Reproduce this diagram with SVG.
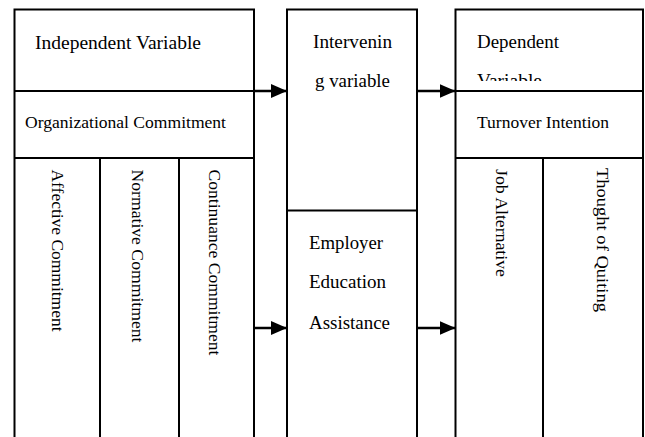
<svg xmlns="http://www.w3.org/2000/svg" width="645" height="437" viewBox="0 0 645 437">
  <style>
    .frame { fill: none; stroke: #000; stroke-width: 2; }
    .link { fill: none; stroke: #000; stroke-width: 2.5; }
    text { fill: #000; }
    .big { font-size: 19px; }
    .small { font-size: 17.5px; }
  </style>
  <defs>
    <marker id="head" markerUnits="userSpaceOnUse" markerWidth="16" markerHeight="14" refX="16" refY="7" orient="auto">
      <path d="M0,0 L16,7 L0,14 Z" fill="#000"/>
    </marker>
    <clipPath id="depClip">
      <rect x="456" y="10" width="186" height="71"/>
    </clipPath>
  </defs>

  <g font-family="'Liberation Serif', 'DejaVu Serif', serif" lengthAdjust="spacingAndGlyphs">
  <!-- Independent variable block -->
  <g id="independent">
    <path class="frame" d="M14.5,440 V9.5 H254 V440"/>
    <path class="frame" d="M14.5,91 H254 M14.5,158 H254 M100,158 V440 M179,158 V440"/>
    <text class="big" x="35" y="49" textLength="166" lengthAdjust="spacingAndGlyphs">Independent Variable</text>
    <text class="small" x="25" y="127.5" textLength="201" lengthAdjust="spacingAndGlyphs">Organizational Commitment</text>
    <text class="small" transform="translate(52,169.5) rotate(90)" textLength="162" lengthAdjust="spacingAndGlyphs">Affective Commitment</text>
    <text class="small" transform="translate(132,169.5) rotate(90)" textLength="173" lengthAdjust="spacingAndGlyphs">Normative Commitment</text>
    <text class="small" transform="translate(208.5,169.5) rotate(90)" textLength="186" lengthAdjust="spacingAndGlyphs">Continuance Commitment</text>
  </g>

  <!-- Intervening variable block -->
  <g id="intervening">
    <path class="frame" d="M287,440 V9.5 H417 V440"/>
    <path class="frame" d="M287,210.5 H417"/>
    <text class="big" x="313" y="48" textLength="79" lengthAdjust="spacingAndGlyphs">Intervenin</text>
    <text class="big" x="315" y="87" textLength="75" lengthAdjust="spacingAndGlyphs">g variable</text>
    <text class="big" x="309" y="249" textLength="74" lengthAdjust="spacingAndGlyphs">Employer</text>
    <text class="big" x="309" y="288" textLength="77" lengthAdjust="spacingAndGlyphs">Education</text>
    <text class="big" x="309" y="329" textLength="81" lengthAdjust="spacingAndGlyphs">Assistance</text>
  </g>

  <!-- Dependent variable block -->
  <g id="dependent">
    <path class="frame" d="M455.5,440 V9.5 H643 V440"/>
    <path class="frame" d="M455.5,91 H643 M455.5,158 H643 M543,158 V440"/>
    <text class="big" x="477" y="48" textLength="82" lengthAdjust="spacingAndGlyphs">Dependent</text>
    <text class="big" x="477" y="87" clip-path="url(#depClip)" textLength="65" lengthAdjust="spacingAndGlyphs">Variable</text>
    <text class="small" x="477" y="127.5" textLength="132" lengthAdjust="spacingAndGlyphs">Turnover Intention</text>
    <text class="small" transform="translate(496,169) rotate(90)" textLength="108" lengthAdjust="spacingAndGlyphs">Job Alternative</text>
    <text class="small" transform="translate(597,168) rotate(90)" font-size="18.5" textLength="144" lengthAdjust="spacingAndGlyphs">Thought of Quiting</text>
  </g>
  </g>

  <!-- Connectors -->
  <g id="connectors">
    <path class="link" d="M254,91 H287" marker-end="url(#head)"/>
    <path class="link" d="M417,91 H455.5" marker-end="url(#head)"/>
    <path class="link" d="M254,328 H287" marker-end="url(#head)"/>
    <path class="link" d="M417,328 H455.5" marker-end="url(#head)"/>
  </g>
</svg>
